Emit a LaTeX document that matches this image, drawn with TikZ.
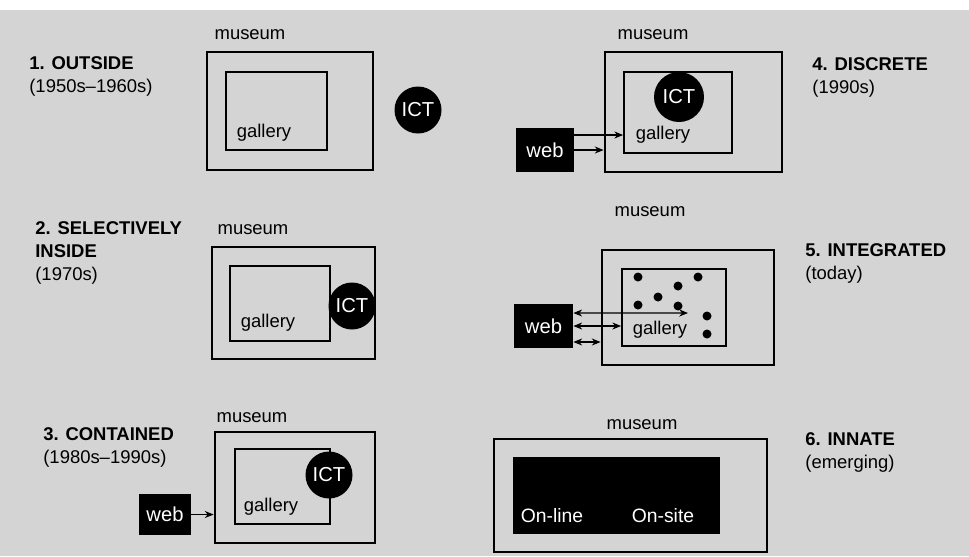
\documentclass[tikz,border=0pt]{standalone}
\usepackage{fontspec}
\setmainfont{Liberation Sans}
\usetikzlibrary{arrows.meta,positioning}

\begin{document}
\begin{tikzpicture}[
  x=0.02cm, y=-0.02cm,
  font=\fontsize{10.5}{13}\selectfont,
  museum/.style={draw=black, line width=1.6pt, inner sep=0pt},
  gal/.style={draw=black, line width=1pt, inner sep=0pt},
  ict/.style={circle, fill=black, text=white, inner sep=0pt, minimum size=0.94cm,
              font=\fontsize{11.5}{12}\selectfont},
  web/.style={fill=black, text=white, inner sep=0pt, font=\fontsize{11.5}{12}\selectfont},
  stage/.style={anchor=base west, align=left, inner sep=0pt},
  lbl/.style={inner sep=0pt},
  dot/.style={circle, fill=black, inner sep=0pt, minimum size=0.18cm},
  arr/.style={draw=black, line width=0.7pt, -{Stealth[length=5pt,width=4pt]}},
  darr/.style={arr, {Stealth[length=5pt,width=4pt]}-{Stealth[length=5pt,width=4pt]}}
]
\useasboundingbox (0,0) rectangle (969,556);
\fill[black!17] (0,0) rectangle (969,556);
\fill[white] (0,0) rectangle (969,10);

\node[museum, minimum width=3.32cm, minimum height=2.36cm] (m1) at (290,111) {};
\node[gal, minimum width=2.02cm, minimum height=1.56cm] (g1) at (276.5,111) {};
\node[lbl] (ml1) at (250,35) {museum};
\node[lbl] (gl1) at (264,133) {gallery};
\node[ict] (c1) at (418,110) {ICT};
\node[stage] (s1) at (29,92) {\textbf{1. OUTSIDE}\\(1950s--1960s)};

\node[museum, minimum width=3.26cm, minimum height=2.24cm] (m2) at (293.5,303) {};
\node[gal, minimum width=2.0cm, minimum height=1.5cm] (g2) at (280,303.5) {};
\node[lbl] (ml2) at (253,230) {museum};
\node[lbl] (gl2) at (268,323) {gallery};
\node[ict] (c2) at (352,306) {ICT};
\node[stage] (s2) at (35,280) {\textbf{2. SELECTIVELY}\\\textbf{INSIDE}\\(1970s)};

\node[museum, minimum width=3.2cm, minimum height=2.22cm] (m3) at (295,487.5) {};
\node[gal, minimum width=1.9cm, minimum height=1.5cm] (g3) at (282.5,486.5) {};
\node[lbl] (ml3) at (252,418) {museum};
\node[lbl] (gl3) at (271,507) {gallery};
\node[ict] (c3) at (329,475) {ICT};
\node[web, minimum width=1.04cm, minimum height=0.82cm] (w3) at (165,514.5) {web};
\draw[arr] (w3.east) -- (w3.east -| m3.west);
\node[stage] (s3) at (43,463) {\textbf{3. CONTAINED}\\(1980s--1990s)};

\node[museum, minimum width=3.54cm, minimum height=2.4cm] (m4) at (693.5,112) {};
\node[gal, minimum width=2.16cm, minimum height=1.62cm] (g4) at (678,112.5) {};
\node[lbl] (ml4) at (653,35) {museum};
\node[lbl] (gl4) at (663,135) {gallery};
\node[ict, minimum size=1cm] (c4) at (679,97) {ICT};
\node[web, minimum width=1.16cm, minimum height=0.88cm] (w4) at (545,150) {web};
\coordinate (a4) at ([yshift=0.3cm]w4.east);
\draw[arr] (a4) -- (a4 -| g4.west);
\draw[arr] (w4.east) -- (w4.east -| m4.west);
\node[stage] (s4) at (812,93) {\textbf{4. DISCRETE}\\(1990s)};

\node[museum, minimum width=3.44cm, minimum height=2.3cm] (m5) at (688,307.5) {};
\node[gal, minimum width=2.08cm, minimum height=1.54cm] (g5) at (674,307.5) {};
\node[lbl] (ml5) at (650,212) {museum};
\node[lbl] (gl5) at (660,330) {gallery};
\foreach \p [count=\i] in {(638,277),(698,277),(678,286),(658,297),(638,305),(678,306),(707,316),(707,334)}
  \node[dot] (d\i) at \p {};
\node[web, minimum width=1.18cm, minimum height=0.88cm] (w5) at (543.5,326) {web};
\coordinate (a5) at ([yshift=0.26cm]w5.east);
\coordinate (t5) at (688,313);
\coordinate (b5) at ([yshift=-0.32cm]w5.east);
\draw[darr] (a5) -- (t5);
\draw[darr] (w5.east) -- (w5.east -| g5.west);
\draw[darr] (b5) -- (b5 -| m5.west);
\node[stage] (s5) at (805,279) {\textbf{5. INTEGRATED}\\(today)};

\node[museum, minimum width=5.46cm, minimum height=2.26cm] (m6) at (630.5,495.5) {};
\node[web, minimum width=4.14cm, minimum height=1.54cm] (g6) at (616.5,495.5) {};
\node[lbl] (ml6) at (642,425) {museum};
\node[lbl, text=white, font=\fontsize{11}{12}\selectfont] (on6) at (552,516) {On-line};
\node[lbl, text=white, font=\fontsize{11}{12}\selectfont] (os6) at (663,516) {On-site};
\node[stage] (s6) at (805,468) {\textbf{6. INNATE}\\(emerging)};
\end{tikzpicture}
\end{document}
